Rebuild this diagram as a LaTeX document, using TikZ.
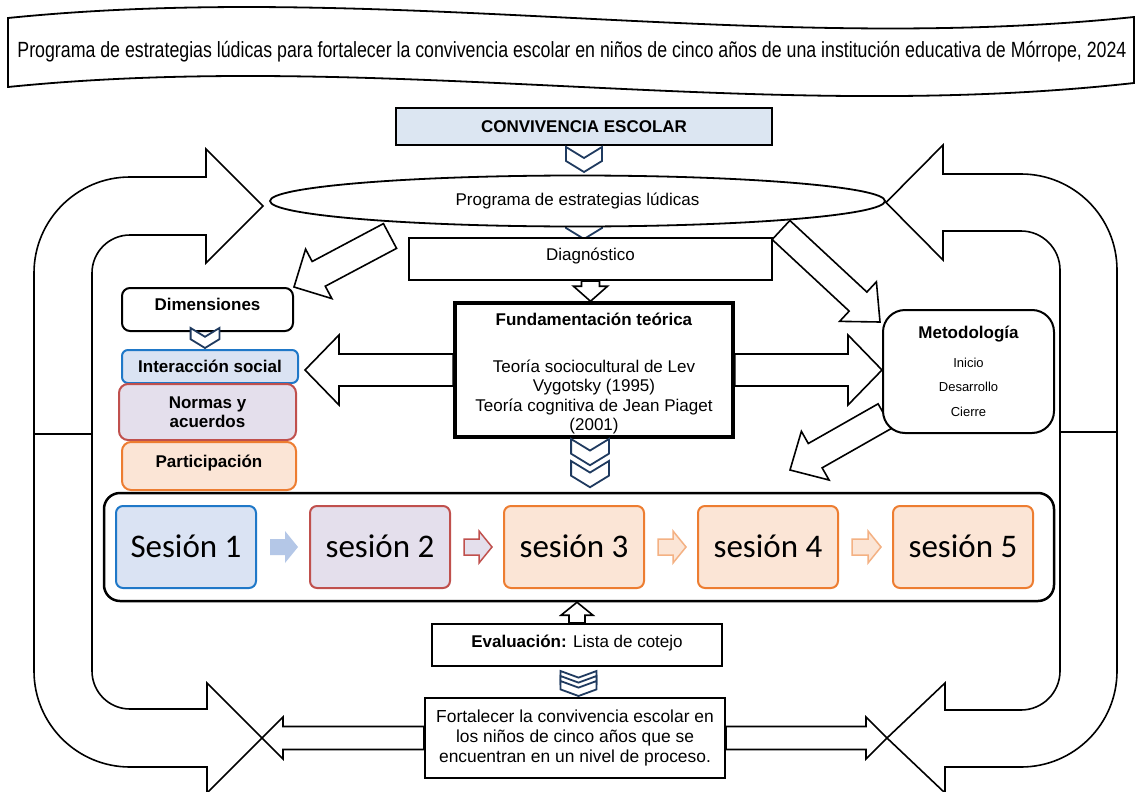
\documentclass[tikz,border=0pt]{standalone}
\usepackage{fontspec}
\setmainfont{Liberation Sans}
\newfontfamily\calibri{Carlito}
\usepackage{graphicx}
\usepackage{tikz}
\usetikzlibrary{calc,shapes.geometric,backgrounds}

\definecolor{chevblue}{HTML}{1F3A5F}
\definecolor{bluebd}{HTML}{1F78C8}
\definecolor{bluefl}{HTML}{DAE3F3}
\definecolor{redbd}{HTML}{C0504D}
\definecolor{redfl}{HTML}{E4DFEC}
\definecolor{orgbd}{HTML}{ED7D31}
\definecolor{orgfl}{HTML}{FBE5D6}
\definecolor{convfl}{HTML}{DCE6F2}
\definecolor{arrfl}{HTML}{B4C7E7}
\definecolor{orglt}{HTML}{F4B183}

% block arrow: [style]{tail}{tip}{shaft half width}{head half width}{head length}
\newcommand{\fatarrow}[6][]{%
  \coordinate (fa-t) at (#2);
  \coordinate (fa-p) at (#3);
  \coordinate (fa-b) at ($(fa-p)!#6!(fa-t)$);
  \draw[#1] ($(fa-t)!#4!90:(fa-p)$) -- ($(fa-b)!#4!-90:(fa-t)$) -- ($(fa-b)!#5!-90:(fa-t)$) -- (fa-p) -- ($(fa-b)!#5!90:(fa-t)$) -- ($(fa-b)!#4!90:(fa-t)$) -- ($(fa-t)!#4!-90:(fa-p)$) -- cycle;}

\tikzset{
  chev/.pic={\draw[chevblue,line width=1.8pt,fill=white] (-18,0) -- (0,11) -- (18,0) -- (18,14) -- (0,25) -- (-18,14) -- cycle;},
  box/.style={draw,line width=2.2pt,fill=white,inner sep=0pt},
  dimbox/.style={draw,line width=2pt,rounded corners=6pt,inner sep=0pt,align=center,font=\fontsize{17}{19}\selectfont\bfseries},
  sesbox/.style={draw,line width=2pt,rounded corners=7pt,minimum width=140pt,minimum height=82pt,text height=21pt,text depth=0pt,font=\calibri\fontsize{33}{36}\selectfont},
  fat/.style={draw,line width=1.6pt,fill=white},
}

\begin{document}
\begin{tikzpicture}[x=1pt,y=-1pt,font=\fontsize{17}{20}\selectfont]
\useasboundingbox (0,0) rectangle (1135,792);

% title banner
\draw[line width=1.8pt,fill=white] (8,18) .. controls (383,-20) and (759,56) .. (1134,17) -- (1134,83) .. controls (759,125) and (383,49) .. (8,87) -- cycle;
\node (title) at (572,52) {\resizebox{1109pt}{\height}{\fontsize{22}{26}\selectfont Programa de estrategias lúdicas para fortalecer la convivencia escolar en niños de cinco años de una institución educativa de Mórrope, 2024}};

% tips where the loop arrows meet the bottom arrows
\coordinate (ltip) at (262,738);
\coordinate (rtip) at (887,738);

% loop arrows
\draw[fat] (34,434) -- (34,273) .. controls (34,220) and (77,177) .. (130,177) -- (206,177) -- (206,149) -- (263,206) -- (206,263) -- (206,235) -- (130,235) .. controls (109,235) and (92,252) .. (92,273) -- (92,434) -- cycle;
\draw[fat] (34,434) -- (34,671) .. controls (34,724) and (77,767) .. (130,767) -- (207,767) -- (207,793) -- (ltip) -- (207,683) -- (207,709) -- (130,709) .. controls (109,709) and (92,692) .. (92,671) -- (92,434) -- cycle;
\draw[fat] (1117,432) -- (1117,270) .. controls (1117,217) and (1074,174) .. (1021,174) -- (943,174) -- (943,145) -- (886,202.5) -- (943,260) -- (943,231) -- (1021,231) .. controls (1042.5,231) and (1060,248.5) .. (1060,270) -- (1060,432) -- cycle;
\draw[fat] (1117,432) -- (1117,671) .. controls (1117,724) and (1074,767) .. (1021,767) -- (945,767) -- (945,793) -- (rtip) -- (945,683) -- (945,710) -- (1021,710) .. controls (1042.5,710) and (1060,692.5) .. (1060,671) -- (1060,432) -- cycle;

% top of the program
\node[box,line width=2.5pt,fill=convfl,minimum width=376pt,minimum height=37pt,font=\fontsize{17}{20}\selectfont\bfseries] (conv) at (584,126.5) {CONVIVENCIA ESCOLAR};
\pic at (584,147) {chev};
\pic at (584,214) {chev};
\node[ellipse,draw,line width=1.8pt,fill=white,minimum width=615pt,minimum height=51pt,inner sep=0pt] (prog) at (577.5,201) {Programa de estrategias lúdicas};
\node[box,minimum width=363pt,minimum height=42pt,text height=12pt,text depth=10pt] (diag) at (590.5,259) {Diagnóstico};
\node[box,line width=3.5pt,minimum width=278pt,minimum height=134pt] (fund) at (594,370) {};
\node[align=center,font=\fontsize{17}{19.5}\selectfont] (fundtxt) at ($(fund.center)+(0,4)$) {\textbf{Fundamentación  teórica}\\[27pt]Teoría sociocultural de Lev\\Vygotsky (1995)\\Teoría cognitiva de Jean Piaget\\(2001)};
\fatarrow[fat]{diag.south}{diag.south |- fund.north}{9pt}{17pt}{15pt}

% dimensiones
\node[dimbox,fill=white,minimum width=171pt,minimum height=43pt,rounded corners=8pt,text height=12pt,text depth=10pt] (dim) at (207.5,309.5) {Dimensiones};
\pic[scale=0.8] at (205,328) {chev};
\node[dimbox,draw=bluebd,fill=bluefl,minimum width=176pt,minimum height=33pt] (inter) at (210,366.5) {Interacción social};
\node[dimbox,draw=redbd,fill=redfl,minimum width=177pt,minimum height=56pt,rounded corners=9pt] (norm) at (207.5,412) {Normas y\\acuerdos};
\node[dimbox,draw=orgbd,fill=orgfl,minimum width=174pt,minimum height=48pt,rounded corners=9pt,text height=12pt,text depth=10pt] (part) at (209,466) {Participación};

% metodologia
\node[draw,line width=2pt,fill=white,rounded corners=22pt,minimum width=171pt,minimum height=123pt,align=center,font=\fontsize{13}{24.5}\selectfont] (met) at (968.5,371.5) {{\fontsize{17}{20}\selectfont\bfseries Metodología}\\[4pt]Inicio\\Desarrollo\\Cierre};

\coordinate (itip) at ($(inter.east)+(6,3.5)$);
\fatarrow[fat]{fund.west}{itip}{16pt}{35pt}{34pt}
\fatarrow[fat]{fund.east}{met.west |- fund.east}{16pt}{35pt}{34pt}

% diagonal arrows behind the ellipse and boxes
\begin{pgfonlayer}{background}
\coordinate (dtail) at (390,236);
\fatarrow[fat]{dtail}{dim.north east}{14pt}{28pt}{28pt}
\coordinate (mtail) at (781,230);
\coordinate (mtip) at ($(met.north west)+(-2,13)$);
\fatarrow[fat]{mtail}{mtip}{13pt}{27pt}{30pt}
\coordinate (otail) at (885,416);
\coordinate (otip) at (790,470);
\fatarrow[fat]{otail}{otip}{14pt}{28pt}{29pt}
\end{pgfonlayer}

% sessions
\pic[scale=1.05] at (590,439) {chev};
\pic[scale=1.05] at (590,461) {chev};
\node[draw,line width=2.5pt,rounded corners=16pt,minimum width=950pt,minimum height=108pt,fill=white] (cont) at (579,547) {};
\node[sesbox,draw=bluebd,fill=bluefl] (s1) at (186,547) {Sesión 1};
\node[sesbox,draw=redbd,fill=redfl] (s2) at (380,547) {sesión 2};
\node[sesbox,draw=orgbd,fill=orgfl] (s3) at (574,547) {sesión 3};
\node[sesbox,draw=orgbd,fill=orgfl] (s4) at (768,547) {sesión 4};
\node[sesbox,draw=orgbd,fill=orgfl] (s5) at (963,547) {sesión 5};
\fatarrow[draw=none,fill=arrfl]{$(s1.east)+(13,0)$}{$(s2.west)+(-11,0)$}{8pt}{16pt}{13pt}
\fatarrow[draw=redbd,line width=1.5pt,fill=redfl]{$(s2.east)+(13,0)$}{$(s3.west)+(-11,0)$}{8pt}{16pt}{13pt}
\fatarrow[draw=orglt,line width=1.5pt,fill=orgfl]{$(s3.east)+(13,0)$}{$(s4.west)+(-11,0)$}{8pt}{16pt}{13pt}
\fatarrow[draw=orglt,line width=1.5pt,fill=orgfl]{$(s4.east)+(13,0)$}{$(s5.west)+(-11,0)$}{8pt}{16pt}{13pt}

% evaluation and result
\node[box,minimum width=290pt,minimum height=42pt,text height=12pt,text depth=8pt] (eval) at (577,645) {\textbf{Evaluación:} Lista de cotejo};
\fatarrow[fat]{eval.north}{eval.north |- cont.south}{8pt}{16pt}{13pt}
\pic[yscale=0.6] at (578.5,671) {chev};
\pic[yscale=0.6] at (578.5,676) {chev};
\pic[yscale=0.6] at (578.5,681) {chev};
\node[box,minimum width=300pt,minimum height=80pt,align=center,font=\fontsize{17.4}{20}\selectfont] (fort) at (575,738) {Fortalecer la convivencia escolar en\\los niños de cinco años que se\\encuentran en un nivel de proceso.};
\fatarrow[fat]{fort.west}{ltip}{11.5pt}{21pt}{21pt}
\fatarrow[fat]{fort.east}{rtip}{11.5pt}{21pt}{21pt}
\end{tikzpicture}
\end{document}
